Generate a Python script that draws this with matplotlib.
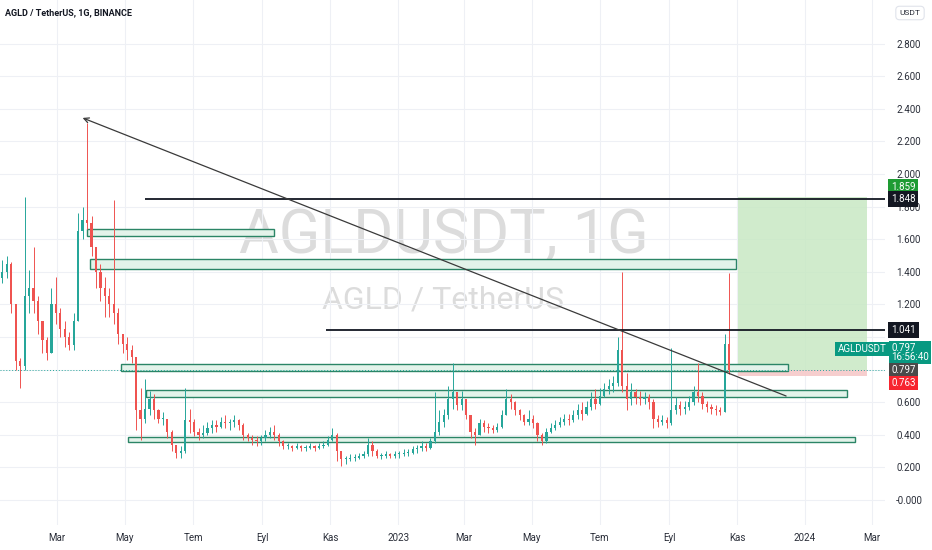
import numpy as np
import matplotlib
matplotlib.use('Agg')
import matplotlib.pyplot as plt
import matplotlib.dates as mdates
from matplotlib import transforms
from matplotlib.patches import Rectangle

plt.rcParams['font.family'] = ['Roboto', 'DejaVu Sans']

# 4-day candles, starting 2022-01-11
first_day = '2022-01-11'
step_days = 4
closes = [1.40, 1.45, 1.20, 0.85, 0.82, 1.25, 1.30, 1.22, 1.10, 0.98,
          0.90, 1.20, 1.15, 1.05, 1.00, 0.95, 1.10, 1.65, 1.72, 1.70,
          1.55, 1.40, 1.30, 1.25, 1.20, 1.15, 1.02, 0.96, 0.92, 0.88,
          0.55, 0.50, 0.56, 0.62, 0.55, 0.50, 0.50, 0.42, 0.34, 0.29,
          0.30, 0.49, 0.48, 0.42, 0.40, 0.41, 0.44, 0.46, 0.45, 0.48,
          0.47, 0.48, 0.49, 0.46, 0.40, 0.38, 0.37, 0.36, 0.38, 0.40,
          0.42, 0.40, 0.36, 0.33, 0.33, 0.32, 0.33, 0.32, 0.32, 0.33,
          0.32, 0.33, 0.34, 0.37, 0.40, 0.30, 0.25, 0.25, 0.26, 0.26,
          0.27, 0.28, 0.34, 0.30, 0.27, 0.27, 0.28, 0.27, 0.28, 0.28,
          0.29, 0.29, 0.31, 0.32, 0.33, 0.32, 0.36, 0.42, 0.48, 0.52,
          0.62, 0.66, 0.58, 0.62, 0.52, 0.42, 0.40, 0.47, 0.45, 0.44,
          0.43, 0.45, 0.52, 0.62, 0.60, 0.55, 0.52, 0.48, 0.50, 0.47,
          0.40, 0.36, 0.42, 0.44, 0.46, 0.48, 0.50, 0.49, 0.52, 0.55,
          0.53, 0.57, 0.62, 0.59, 0.64, 0.68, 0.70, 0.72, 0.92, 0.70,
          0.62, 0.66, 0.63, 0.62, 0.63, 0.60, 0.50, 0.48, 0.49, 0.47,
          0.55, 0.58, 0.56, 0.57, 0.60, 0.66, 0.64, 0.59, 0.57, 0.56,
          0.55, 0.54, 0.96, 0.797]
highs = [1.47, 1.50, 1.46, 1.20, 0.87, 1.86, 1.41, 1.55, 1.25, 1.10,
         1.00, 1.30, 1.37, 1.18, 1.10, 1.03, 1.15, 1.76, 1.80, 2.31,
         1.74, 1.55, 1.45, 1.37, 1.30, 1.84, 1.18, 1.02, 1.00, 0.95,
         0.88, 0.69, 0.74, 0.67, 0.65, 0.56, 0.54, 0.50, 0.43, 0.33,
         0.33, 0.69, 0.56, 0.50, 0.44, 0.46, 0.48, 0.49, 0.49, 0.51,
         0.52, 0.50, 0.52, 0.50, 0.47, 0.41, 0.40, 0.39, 0.40, 0.43,
         0.45, 0.46, 0.41, 0.37, 0.35, 0.34, 0.35, 0.34, 0.34, 0.35,
         0.34, 0.35, 0.36, 0.39, 0.44, 0.41, 0.30, 0.27, 0.28, 0.28,
         0.29, 0.30, 0.38, 0.36, 0.31, 0.29, 0.30, 0.29, 0.30, 0.30,
         0.31, 0.31, 0.33, 0.34, 0.36, 0.35, 0.38, 0.66, 0.55, 0.56,
         0.70, 0.84, 0.66, 0.67, 0.62, 0.52, 0.44, 0.50, 0.49, 0.47,
         0.46, 0.47, 0.55, 0.68, 0.65, 0.61, 0.56, 0.53, 0.55, 0.52,
         0.48, 0.41, 0.44, 0.47, 0.49, 0.51, 0.53, 0.53, 0.55, 0.59,
         0.60, 0.61, 0.66, 0.68, 0.69, 0.72, 0.74, 0.76, 1.00, 1.40,
         0.78, 0.72, 0.68, 0.67, 0.66, 0.65, 0.62, 0.52, 0.52, 0.51,
         0.93, 0.63, 0.61, 0.61, 0.64, 0.70, 0.84, 0.66, 0.61, 0.59,
         0.58, 0.57, 1.02, 1.39]
lows = [1.33, 1.36, 1.15, 0.80, 0.69, 0.80, 1.15, 1.15, 1.02, 0.90,
        0.86, 0.90, 1.08, 1.00, 0.94, 0.92, 0.92, 1.10, 1.60, 1.66,
        1.50, 1.30, 1.22, 1.12, 1.12, 1.08, 0.96, 0.90, 0.86, 0.84,
        0.43, 0.37, 0.47, 0.52, 0.50, 0.47, 0.46, 0.38, 0.30, 0.26,
        0.26, 0.29, 0.41, 0.39, 0.37, 0.38, 0.40, 0.41, 0.42, 0.44,
        0.44, 0.43, 0.45, 0.43, 0.37, 0.36, 0.34, 0.33, 0.34, 0.36,
        0.38, 0.37, 0.33, 0.31, 0.31, 0.30, 0.31, 0.30, 0.30, 0.31,
        0.30, 0.31, 0.32, 0.33, 0.36, 0.24, 0.21, 0.22, 0.24, 0.24,
        0.25, 0.26, 0.27, 0.27, 0.26, 0.25, 0.26, 0.26, 0.26, 0.26,
        0.27, 0.27, 0.28, 0.29, 0.30, 0.30, 0.31, 0.35, 0.40, 0.45,
        0.50, 0.56, 0.55, 0.55, 0.50, 0.38, 0.34, 0.40, 0.42, 0.41,
        0.41, 0.42, 0.44, 0.52, 0.56, 0.52, 0.49, 0.46, 0.46, 0.44,
        0.36, 0.34, 0.35, 0.41, 0.43, 0.45, 0.46, 0.46, 0.48, 0.50,
        0.49, 0.52, 0.55, 0.56, 0.58, 0.63, 0.65, 0.66, 0.70, 0.66,
        0.55, 0.58, 0.59, 0.58, 0.59, 0.56, 0.44, 0.45, 0.46, 0.44,
        0.46, 0.53, 0.52, 0.53, 0.55, 0.58, 0.60, 0.56, 0.54, 0.53,
        0.52, 0.52, 0.54, 0.77]
first_open = 1.36

# drawings on the chart
zones = [('2022-03-28', '2022-09-12', 1.620, 1.663),
         ('2022-03-31', '2023-10-31', 1.417, 1.479),
         ('2022-04-27', '2023-12-17', 0.791, 0.834),
         ('2022-05-20', '2024-02-08', 0.632, 0.675),
         ('2022-05-04', '2024-02-15', 0.356, 0.387)]
trend_start = ('2022-03-24', 2.344)
trend_end = ('2023-12-15', 0.638)
hlines = [('2022-05-19', 1.848), ('2022-10-28', 1.041)]
pos_start, pos_end = '2023-11-02', '2024-02-26'
entry, target, stop = 0.797, 1.859, 0.763

xtick_dates = ['2022-03-01', '2022-05-01', '2022-07-01', '2022-09-01', '2022-11-01',
               '2023-01-01', '2023-03-01', '2023-05-01', '2023-07-01', '2023-09-01',
               '2023-11-01', '2024-01-01', '2024-03-01']
xtick_labels = ['Mar', 'May', 'Tem', 'Eyl', 'Kas', '2023', 'Mar', 'May', 'Tem', 'Eyl',
                'Kas', '2024', 'Mar']
ytick_vals = [0.0, 0.2, 0.4, 0.6, 0.8, 1.0, 1.2, 1.4, 1.6, 1.8, 2.0, 2.2, 2.4, 2.6, 2.8]
# 0.800 and 1.000 sit under the price tags in the original
ytick_labels = ['-0.000', '0.200', '0.400', '0.600', '', '', '1.200', '1.400',
                '1.600', '1.800', '2.000', '2.200', '2.400', '2.600', '2.800']


def dnum(s):
    return mdates.date2num(np.datetime64(s))


UP, DOWN = '#26a69a', '#ef5350'
ZONE_EDGE, ZONE_FILL = '#2b8566', '#e3f3ea'

fig = plt.figure(figsize=(9.32, 5.5), dpi=100)
ax = fig.add_axes([0, 25 / 550, 885 / 932, 525 / 550])

# candles
n = len(closes)
days = np.datetime64(first_day) + np.arange(n) * np.timedelta64(step_days, 'D')
x = mdates.date2num(days)
c = np.array(closes)
o = np.concatenate([[first_open], c[:-1]])
h = np.maximum(np.array(highs), np.maximum(o, c))
lo = np.minimum(np.array(lows), np.minimum(o, c))
cols = np.where(c >= o, UP, DOWN)
ax.vlines(x, lo, h, colors=cols, lw=0.7, zorder=3)
ax.bar(x, np.maximum(np.abs(c - o), 0.006), bottom=np.minimum(o, c), width=2.0,
       color=cols, lw=0, zorder=3)

# support / resistance zones
for d0, d1, y0, y1 in zones:
    ax.add_patch(Rectangle((dnum(d0), y0), dnum(d1) - dnum(d0), y1 - y0,
                           fc=ZONE_FILL, ec=ZONE_EDGE, lw=1.0, zorder=2))

# long position tool
ax.add_patch(Rectangle((dnum(pos_start), entry), dnum(pos_end) - dnum(pos_start),
                       target - entry, fc='#c8e8c4', ec='none', alpha=0.85, zorder=1))
ax.add_patch(Rectangle((dnum(pos_start), stop), dnum(pos_end) - dnum(pos_start),
                       entry - stop, fc='#f6c9c9', ec='none', alpha=0.9, zorder=1))

xlim = (dnum('2022-03-01') - 51.1, dnum('2022-03-01') + 742.7)

for d0, y in hlines:
    ax.plot([dnum(d0), xlim[1]], [y, y], color='#131722', lw=1.3, zorder=4,
            solid_capstyle='butt')

ax.annotate('', xy=(dnum(trend_start[0]), trend_start[1]),
            xytext=(dnum(trend_end[0]), trend_end[1]),
            arrowprops=dict(arrowstyle='->', color='#3a3a3a', lw=0.9,
                            shrinkA=0, shrinkB=0, mutation_scale=9), zorder=5)

ax.axhline(entry, color=UP, lw=0.7, ls=(0, (1, 2)), zorder=2)

# watermark
ax.text(0.502, 1 - 236 / 525, 'AGLDUSDT, 1G', transform=ax.transAxes, ha='center',
        va='center', fontsize=44, color='#dcdcdc', zorder=0)
ax.text(0.501, 1 - 300 / 525, 'AGLD / TetherUS', transform=ax.transAxes, ha='center',
        va='center', fontsize=23, color='#dcdcdc', zorder=0)

ax.set_xlim(*xlim)
ax.set_ylim(-25 / 163, 500 / 163)
ax.set_xticks([dnum(d) for d in xtick_dates])
ax.set_xticklabels(xtick_labels)
ax.set_yticks(ytick_vals)
ax.set_yticklabels(ytick_labels)
ax.yaxis.tick_right()
ax.tick_params(axis='both', length=0, labelsize=7, labelcolor='#2a2e39')
ax.tick_params(axis='y', pad=8)
ax.tick_params(axis='x', pad=6)
ax.grid(True, color='#eef0f5', lw=0.8, zorder=0)
ax.set_axisbelow(True)
for s in ax.spines.values():
    s.set_visible(False)

# price tags on the scale
trans = transforms.blended_transform_factory(fig.transFigure, ax.transData)


def tag(y, text, bg, ls=1.0, pad=0.3):
    ax.text(891 / 932, y, text, transform=trans, ha='left', va='center', fontsize=7,
            color='white', linespacing=ls, clip_on=False, zorder=10,
            bbox=dict(boxstyle='square,pad=%s' % pad, fc=bg, ec='none'))


tag(1.92, '1.859', '#1e9b33')
tag(1.848, '1.848', '#131722')
tag(1.041, '1.041', '#131722')
tag(0.905, '0.797\n16:56:40', '#089981', ls=0.95, pad=0.2)
tag(entry, '0.797', '#4a4a4a', pad=0.25)
tag(0.718, '0.763', '#f7252f', pad=0.25)
ax.text(862 / 932, 0.926, 'AGLDUSDT', transform=trans, ha='center', va='center',
        fontsize=7, color='white', clip_on=False, zorder=10,
        bbox=dict(boxstyle='square,pad=0.25', fc='#089981', ec='none'))

fig.text(5 / 932, 1 - 13 / 550, 'AGLD / TetherUS, 1G, BINANCE', fontsize=6.5,
         weight='semibold', color='#131722', va='center')
fig.text(910 / 932, 1 - 13 / 550, 'USDT', fontsize=6, color='#2a2e39', ha='center',
         va='center', bbox=dict(boxstyle='round,pad=0.45', fc='white', ec='#e0e3eb', lw=0.8))

fig.savefig('out.png', dpi=100)
